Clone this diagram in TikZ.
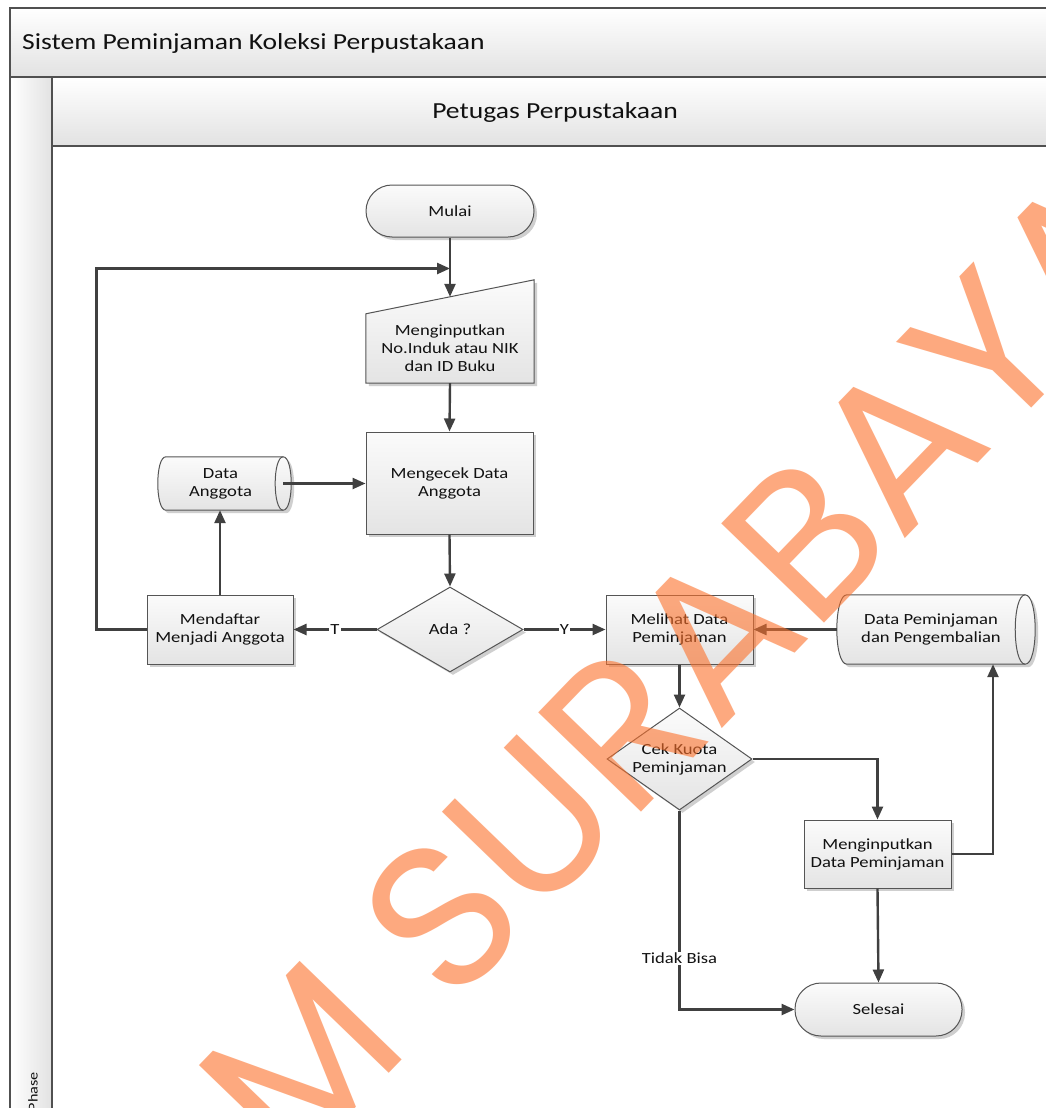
\documentclass[tikz,border=0pt]{standalone}
\usepackage{fontspec}
\usetikzlibrary{arrows.meta,shapes.geometric,shadows,calc}
\newfontfamily\visfont[FakeStretch=1.2]{Carlito}
\newfontfamily\wmfont{Poppins}
\definecolor{framegray}{HTML}{505050}
\definecolor{hdrgray}{HTML}{E2E2E2}
\definecolor{shapeline}{HTML}{555555}
\definecolor{boxtop}{HTML}{FBFBFB}
\definecolor{boxbot}{HTML}{E4E4E4}
\definecolor{conncol}{HTML}{404040}
\definecolor{txtcol}{HTML}{111111}
\definecolor{shadowcol}{HTML}{CFCFCF}
\definecolor{wmcol}{RGB}{252,113,43}
\begin{document}
\begin{tikzpicture}[x=1pt,y=-1pt,
  hdr/.style={draw=framegray, line width=1.3pt, top color=white, bottom color=hdrgray},
  hdrtext/.style={font=\visfont\fontsize{23}{26}\selectfont, text=txtcol, inner sep=0pt},
  txt/.style={font=\visfont\fontsize{15.5}{18}\selectfont, text=txtcol, align=center},
  shadowed/.style={drop shadow={shadow xshift=3pt, shadow yshift=-3pt, fill=shadowcol, opacity=1}},
  shp/.style={draw=shapeline, line width=1pt, top color=boxtop, bottom color=boxbot, shadowed},
  box/.style={txt, shp, rectangle, inner sep=0pt},
  term/.style={box, rounded corners=26pt},
  dmd/.style={shp, diamond, inner sep=0pt},
  plain/.style={txt, inner sep=0pt},
  conn/.style={draw=conncol, line width=2.4pt, -{Triangle[length=13pt,width=11pt]}},
  lbl/.style={txt, fill=white, inner sep=1pt}
]
\useasboundingbox (0,0) rectangle (1046,1108);
\clip (0,0) rectangle (1046,1108);

% ---------- pool and lane frame ----------
\draw[hdr] (10,8) rectangle (1070,77);
\node[hdrtext, anchor=west] (pool) at (22,43) {Sistem Peminjaman Koleksi Perpustakaan};
\shade[left color=white, right color=hdrgray] (10,77) rectangle (52,1130);
\draw[framegray, line width=1.3pt] (10,77) rectangle (52,1130);
\draw[hdr] (52,77) rectangle (1070,146);
\node[hdrtext] (lane) at (555,112) {Petugas Perpustakaan};
\draw[framegray, line width=1.3pt, fill=white] (52,146) rectangle (1070,1130);
\node[txt, font=\visfont\fontsize{13.5}{15}\selectfont, rotate=90, anchor=east, inner sep=0pt] (phase) at (33,1072) {Phase};

% ---------- process shapes ----------
\node[term, minimum width=168, minimum height=52] (mulai) at (450,211) {Mulai};

% manual input: body node, slanted top drawn from its anchors
\node[plain, minimum width=168, minimum height=69] (inp) at (450,348.5) {};
\path[shp] (inp.south west) -- (inp.south east) -- ($(inp.north east)+(0,-34)$) -- (inp.north west) -- cycle;
\node[plain] at (inp) {Menginputkan\\No.Induk atau NIK\\dan ID Buku};
\coordinate (inptop) at ($(inp.north)+(0,-17)$);

\node[box, minimum width=167, minimum height=102] (cekagt) at (449.5,483) {Mengecek Data\\Anggota};

% stored data "Data Anggota"
\node[plain, minimum width=109, minimum height=53] (dagt) at (220.5,483.5) {};
\path[shp] ($(dagt.north west)$) -- ($(dagt.north east)+(8,0)$)
  .. controls ($(dagt.north east)+(18.7,0)$) and ($(dagt.south east)+(18.7,0)$) .. ($(dagt.south east)+(8,0)$)
  -- (dagt.south west)
  .. controls ($(dagt.south west)+(-10.7,0)$) and ($(dagt.north west)+(-10.7,0)$) .. cycle;
\draw[shapeline, line width=1pt] ($(dagt.north east)+(8,0)$)
  .. controls ($(dagt.north east)+(-2.7,0)$) and ($(dagt.south east)+(-2.7,0)$) .. ($(dagt.south east)+(8,0)$);
\node[plain] at (dagt) {Data\\Anggota};
\coordinate (dagtout) at ($(dagt.east)+(8,0)$);

\node[dmd, minimum width=146, minimum height=85] (ada) at (450,629.5) {};
\node[plain] at (ada) {Ada ?};

\node[box, minimum width=146, minimum height=69] (daftar) at (220,629.5) {Mendaftar\\Menjadi Anggota};
\node[box, minimum width=147, minimum height=69] (lihat) at (679.5,629.5) {Melihat Data\\Peminjaman};

% stored data "Data Peminjaman dan Pengembalian"
\node[plain, minimum width=168, minimum height=69] (dpem) at (931,629.5) {};
\path[shp] ($(dpem.north west)$) -- ($(dpem.north east)+(10,0)$)
  .. controls ($(dpem.north east)+(23.3,0)$) and ($(dpem.south east)+(23.3,0)$) .. ($(dpem.south east)+(10,0)$)
  -- (dpem.south west)
  .. controls ($(dpem.south west)+(-13.3,0)$) and ($(dpem.north west)+(-13.3,0)$) .. cycle;
\draw[shapeline, line width=1pt] ($(dpem.north east)+(10,0)$)
  .. controls ($(dpem.north east)+(-3.3,0)$) and ($(dpem.south east)+(-3.3,0)$) .. ($(dpem.south east)+(10,0)$);
\node[plain] at (dpem) {Data Peminjaman\\dan Pengembalian};
\coordinate (dpemin) at ($(dpem.south)+(62,0)$);

\node[dmd, minimum width=145, minimum height=102] (kuota) at (679.5,759) {};
\node[plain] at (kuota) {Cek Kuota\\Peminjaman};

\node[box, minimum width=147, minimum height=68] (inpdata) at (877.5,854) {Menginputkan\\Data Peminjaman};
\node[term, minimum width=167, minimum height=53] (selesai) at (878.5,1009.5) {Selesai};

% ---------- connectors ----------
\coordinate (loopin) at ($(mulai.south)+(0,31)$);
\draw[conn] (mulai.south) -- (inptop);
\draw[conn] (daftar.west) -- ++(-50,0) |- (loopin);
\draw[conn] (inp.south) -- (cekagt.north);
\draw[conn] (dagtout) -- (cekagt.west |- dagtout);
\draw[conn] (cekagt.south) -- (ada.north);
\draw[conn] (ada.west) -- node[lbl]{T} (daftar.east);
\draw[conn] (daftar.north) -- (daftar.north |- dagt.south);
\draw[conn] (ada.east) -- node[lbl]{Y} (lihat.west);
\draw[conn] (dpem.west) ++(-10,0) -- (lihat.east);
\draw[conn] (lihat.south) -- (kuota.north);
\draw[conn] (kuota.east) -| (inpdata.north);
\draw[conn] (inpdata.east) -| (dpemin);
\draw[conn] (inpdata.south) -- (selesai.north);
\draw[conn] (kuota.south) |- node[lbl, pos=0.371]{Tidak Bisa} (selesai.west);

% ---------- watermark ----------
\node[rotate=46, font=\wmfont\fontsize{205}{205}\selectfont, text=wmcol, text opacity=0.6, inner sep=0pt] (wm) at (762,584) {\llap{M }SURABAYA};
\end{tikzpicture}
\end{document}
